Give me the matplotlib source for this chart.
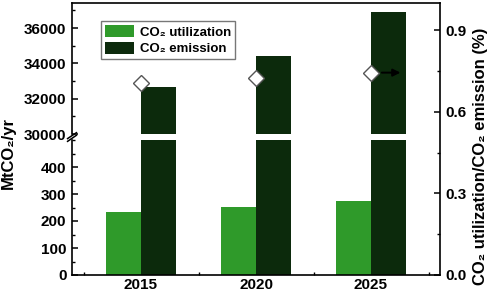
import numpy as np
import matplotlib
matplotlib.use("Agg")
import matplotlib.pyplot as plt
from matplotlib.patches import Patch
from matplotlib.ticker import MultipleLocator

plt.rcParams['font.family'] = ['Liberation Sans', 'DejaVu Sans']
plt.rcParams['font.weight'] = 'bold'
plt.rcParams['font.size'] = 11

# data
years = [2015, 2020, 2025]
utilization = [232, 253, 274]          # MtCO2/yr
emission = [32680, 34420, 36930]       # MtCO2/yr
ratio = [0.706, 0.724, 0.744]          # %

green = '#2f9a2a'
dark = '#0c2a0c'
bar_w = 1.52

W, H = 491, 294
fig = plt.figure(figsize=(W / 100, H / 100), dpi=100)

def fbox(x0, y0, x1, y1):
    # pixel box (top-left origin) -> figure fraction rect
    return [x0 / W, 1 - y1 / H, (x1 - x0) / W, (y1 - y0) / H]

ax_lo = fig.add_axes(fbox(72, 140, 440, 275))
ax_hi = fig.add_axes(fbox(72, 3, 440, 134), sharex=ax_lo)
ax_r = fig.add_axes(fbox(72, 3, 440, 275), sharex=ax_lo)
ax_r.patch.set_alpha(0)

x = np.array(years, dtype=float)
for ax in (ax_lo, ax_hi):
    ax.bar(x - bar_w / 2, utilization, bar_w, color=green, zorder=2)
    ax.bar(x + bar_w / 2, emission, bar_w, color=dark, zorder=2)

ax_lo.set_xlim(2012, 2028)
ax_lo.set_ylim(0, 500)
ax_hi.set_ylim(30000, 37420)
ax_r.set_ylim(0, 1.0)

# spines
ax_lo.spines['top'].set_visible(False)
ax_lo.spines['right'].set_visible(False)
ax_hi.spines['bottom'].set_visible(False)
ax_hi.spines['right'].set_visible(False)
for s in ('left', 'top', 'bottom'):
    ax_r.spines[s].set_visible(False)
for ax in (ax_lo, ax_hi, ax_r):
    for s in ax.spines.values():
        s.set_linewidth(1.2)

# ticks
ax_lo.set_xticks(years)
ax_lo.set_xticklabels([str(y) for y in years])
ax_lo.xaxis.set_minor_locator(MultipleLocator(2.5))
ax_lo.set_yticks([0, 100, 200, 300, 400])
ax_lo.yaxis.set_minor_locator(MultipleLocator(50))
ax_hi.set_yticks([30000, 32000, 34000, 36000])
ax_hi.yaxis.set_minor_locator(MultipleLocator(1000))
ax_r.set_yticks([0.0, 0.3, 0.6, 0.9])
ax_r.set_yticklabels(['0.0', '0.3', '0.6', '0.9'])
ax_r.yaxis.set_minor_locator(MultipleLocator(0.15))
ax_r.yaxis.tick_right()

for ax in (ax_lo, ax_hi, ax_r):
    ax.tick_params(which='major', direction='in', length=4, width=1.1, labelsize=11, pad=4)
    ax.tick_params(which='minor', direction='in', length=2.5, width=1.0)
ax_lo.tick_params(axis='x', which='major', pad=2)
ax_hi.tick_params(axis='x', which='both', bottom=False, labelbottom=False)
ax_r.tick_params(axis='x', which='both', bottom=False, labelbottom=False)
ax_r.tick_params(axis='y', which='both', left=False, right=True, labelleft=False, labelright=True)

# break marks on the left spine
d = 0.012
kw = dict(color='k', lw=1.1, clip_on=False)
ax_lo.plot([-d, d], [1 - 0.01, 1 + 0.035], transform=ax_lo.transAxes, **kw)
ax_hi.plot([-d, d], [-0.035, 0.01], transform=ax_hi.transAxes, **kw)

# ratio markers
ax_r.plot(years, ratio, linestyle='none', marker='D', markersize=8,
          markerfacecolor='white', markeredgecolor='#555555', markeredgewidth=1.0, zorder=5)
ax_r.annotate('', xy=(2026.4, ratio[2]), xytext=(2025.35, ratio[2]),
              arrowprops=dict(arrowstyle='-|>', color='k', lw=1.4, mutation_scale=11))

# legend
handles = [Patch(facecolor=green, label='CO₂ utilization'),
           Patch(facecolor=dark, label='CO₂ emission')]
leg = ax_hi.legend(handles=handles, loc='upper left', bbox_to_anchor=(0.08, 0.86),
                   borderaxespad=0, fancybox=False, framealpha=1, edgecolor='#777777',
                   handlelength=2.2, handleheight=1.0, handletextpad=0.4,
                   labelspacing=0.25, borderpad=0.3, prop={'size': 9.5, 'weight': 'bold'})
leg.get_frame().set_linewidth(1.0)

fig.text(8 / W, 1 - 153 / H, 'MtCO₂/yr', rotation=90, ha='center', va='center',
         fontsize=12, fontweight='bold')
fig.text(481 / W, 1 - 156 / H, 'CO₂ utilization/CO₂ emission (%)', rotation=90,
         ha='center', va='center', fontsize=12, fontweight='bold')

fig.savefig('out.png', dpi=100)
